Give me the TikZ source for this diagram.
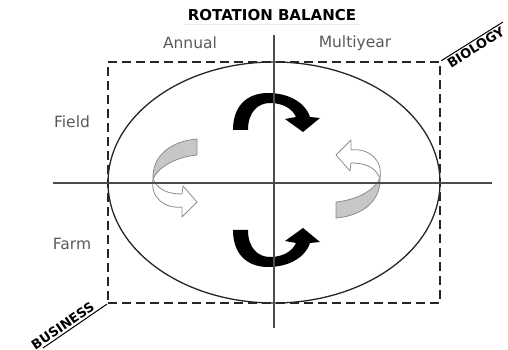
\documentclass[tikz,border=0pt]{standalone}
\usepackage{fontspec}
\setmainfont{DejaVu Sans}
\usetikzlibrary{shapes.geometric}

\begin{document}
\begin{tikzpicture}[x=1pt,y=1pt]
  \tikzstyle{axisname}=[text=black!65,font=\fontsize{15.5}{18}\selectfont]
  \tikzstyle{corner}=[font=\bfseries\fontsize{13}{16}\selectfont,inner sep=1.5pt]
  \tikzstyle{cross}=[black!70,line width=1.3pt]
  \tikzstyle{blackturn}=[fill=black]
  \tikzstyle{ribbon}=[draw=black!45,line width=0.8pt,line join=round]
  \useasboundingbox (0,0) rectangle (508,350);

  \node[draw=black!85,line width=2.5pt,dash pattern=on 9pt off 5pt,
        minimum width=332pt,minimum height=241pt,inner sep=0] (frame) at (274,167.5) {};
  \node[ellipse,draw=black!85,line width=1.3pt,
        minimum width=332pt,minimum height=241pt,inner sep=0] (oval) at (274,167.5) {};

  \node[font=\bfseries\fontsize{15}{18}\selectfont] (title) at (272,335) {ROTATION BALANCE};
  \draw[black!8] (title.south west) -- (title.south east);

  \node[axisname] (annual) at (190,307) {Annual};
  \node[axisname] (multiyear) at (355,307) {Multiyear};
  \node[axisname] (field) at (72,228) {Field};
  \node[axisname] (farm) at (72,106) {Farm};

  % black turning arrows
  \fill[blackturn] (233,220) .. controls (233,245) and (248,257) .. (268,257)
    .. controls (288,257) and (305,248) .. (310,233) -- (320,232) -- (303,218)
    -- (285,231) -- (296,233) .. controls (292,242) and (282,247) .. (270,247)
    .. controls (258,247) and (248,238) .. (248,220) -- cycle;
  \begin{scope}[shift={(0,340)},yscale=-1]
    \fill[blackturn] (233,220) .. controls (233,245) and (248,257) .. (268,257)
      .. controls (288,257) and (305,248) .. (310,233) -- (320,232) -- (303,218)
      -- (285,231) -- (296,233) .. controls (292,242) and (282,247) .. (270,247)
      .. controls (258,247) and (248,238) .. (248,220) -- cycle;
  \end{scope}

  % gray ribbon arrows
  \filldraw[ribbon,fill=black!22] (197,211) .. controls (172,209) and (152,195) .. (153,171)
    .. controls (158,183) and (176,193) .. (197,195) -- cycle;
  \filldraw[ribbon,fill=white] (153,171) .. controls (158,160) and (168,156) .. (182,156)
    -- (183,164) -- (197,148) -- (182,133) -- (182,143)
    .. controls (165,141) and (150,152) .. (153,171) -- cycle;
  \begin{scope}[rotate around={180:(266.5,171.5)}]
    \filldraw[ribbon,fill=black!22] (197,211) .. controls (172,209) and (152,195) .. (153,171)
      .. controls (158,183) and (176,193) .. (197,195) -- cycle;
    \filldraw[ribbon,fill=white] (153,171) .. controls (158,160) and (168,156) .. (182,156)
      -- (183,164) -- (197,148) -- (182,133) -- (182,143)
      .. controls (165,141) and (150,152) .. (153,171) -- cycle;
  \end{scope}

  \coordinate (vtop) at (274,315);
  \coordinate (vbot) at (274,22);
  \coordinate (hleft) at (53,167);
  \coordinate (hright) at (492,167);
  \draw[cross] (vtop) -- (vbot);
  \draw[cross] (hleft) -- (hright);

  \coordinate (bioend) at (503,328);
  \coordinate (busend) at (43,2);
  \draw[line width=1pt] (frame.north east) -- node[corner,sloped,below,pos=0.5] (biology) {BIOLOGY} (bioend);
  \draw[line width=1pt] (busend) -- node[corner,sloped,above,pos=0.37] (business) {BUSINESS} (frame.south west);
\end{tikzpicture}
\end{document}
